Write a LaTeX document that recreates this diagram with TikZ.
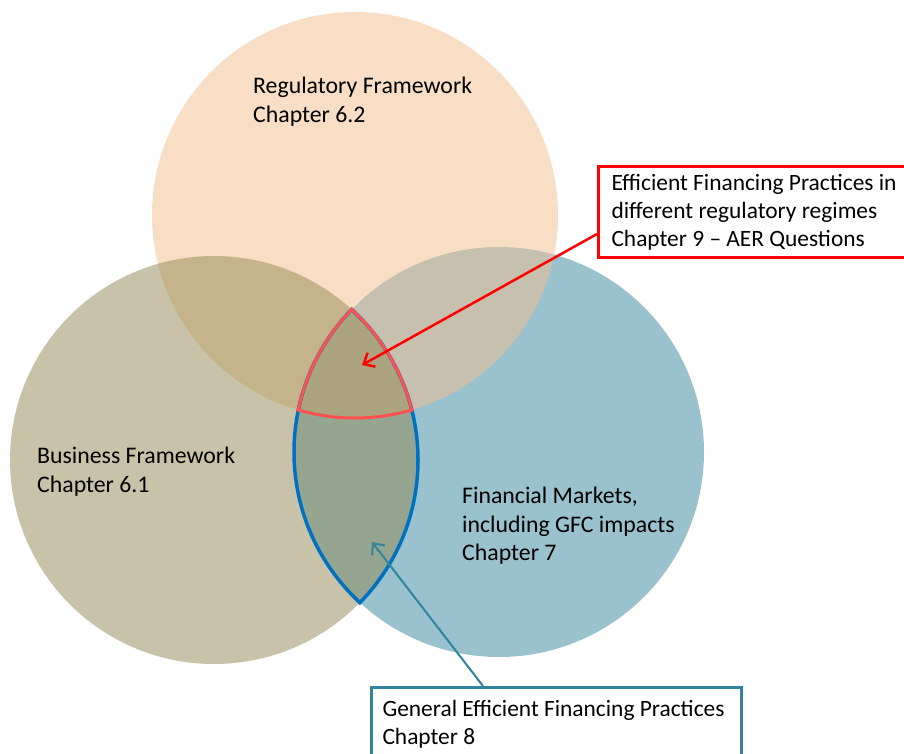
\documentclass[tikz,border=0pt]{standalone}
\usepackage{fontspec}
\setmainfont{Carlito}
\usetikzlibrary{arrows.meta, positioning}

\definecolor{regfill}{RGB}{245,191,143}
\definecolor{busfill}{RGB}{147,137,83}
\definecolor{finfill}{RGB}{53,135,159}
\definecolor{lensblue}{RGB}{0,112,192}
\definecolor{trired}{RGB}{255,80,80}
\definecolor{tealline}{RGB}{49,132,155}

\begin{document}
\begin{tikzpicture}[x=1pt,y=-1pt]
	\tikzset{venn/.style={fill opacity=0.5},
		vtext/.style={anchor=north west, inner sep=0pt, align=left, font=\fontsize{23.8}{28.5}\selectfont},
		lensline/.style={lensblue, line width=3.5pt},
		triline/.style={trired, line width=3pt},
		notebox/.style={fill=white, text=black, line width=3pt, anchor=north west, inner xsep=11pt, inner ysep=0pt, align=flush left, font=\fontsize{23.4}{28}\selectfont}}
	
	\path[use as bounding box, fill=white] (0,0) rectangle (904,753);
	
	\coordinate (reg) at (355,215);
	\coordinate (bus) at (214,460);
	\coordinate (fin) at (499,452);
	
	% the three circles
	\fill[finfill, venn] (fin) circle (205pt);
	\fill[regfill, venn] (reg) circle (203pt);
	\fill[busfill, venn] (bus) circle (204pt);
	
	% lens of business and financial markets
	\begin{scope}
		\clip (bus) circle (205.75pt);
		\draw[lensline] (fin) circle (205pt);
	\end{scope}
	\begin{scope}
		\clip (fin) circle (206.75pt);
		\draw[lensline] (bus) circle (204pt);
	\end{scope}
	
	% centre of all three
	\begin{scope}
		\clip (bus) circle (205.5pt);
		\clip (fin) circle (206.5pt);
		\draw[triline] (reg) circle (203pt);
	\end{scope}
	\begin{scope}
		\clip (reg) circle (204.5pt);
		\clip (fin) circle (206.5pt);
		\draw[triline] (bus) circle (204pt);
	\end{scope}
	\begin{scope}
		\clip (reg) circle (204.5pt);
		\clip (bus) circle (205.5pt);
		\draw[triline] (fin) circle (205pt);
	\end{scope}
	
	\node[vtext] (regtext) at (253,77) {Regulatory Framework\\Chapter 6.2};
	\node[vtext] (bustext) at (37,447) {Business Framework\\Chapter 6.1};
	\node[vtext] (fintext) at (462,487) {Financial Markets,\\including GFC impacts\\Chapter 7};
	
	\coordinate (regimetip) at (362,365);
	\coordinate (generaltip) at (372,542);
	
	\node[notebox, draw=red, inner xsep=13pt, text width=300pt, minimum height=91pt] (regimebox) at (597,165)
		{Efficient Financing Practices in\\different regulatory regimes\\Chapter 9 -- AER Questions};
	\node[notebox, draw=tealline, text width=348pt, minimum height=74pt] (generalbox) at (370,686)
		{General Efficient Financing Practices\\Chapter 8};
	
	\draw[red, line width=2.5pt, -{Straight Barb[length=9pt,width=16pt]}] ([yshift=25pt]regimebox.south west) -- (regimetip);
	\draw[tealline, line width=2pt, -{Straight Barb[length=9pt,width=16pt]}] ([xshift=113pt]generalbox.north west) -- (generaltip);
\end{tikzpicture}
\end{document}
